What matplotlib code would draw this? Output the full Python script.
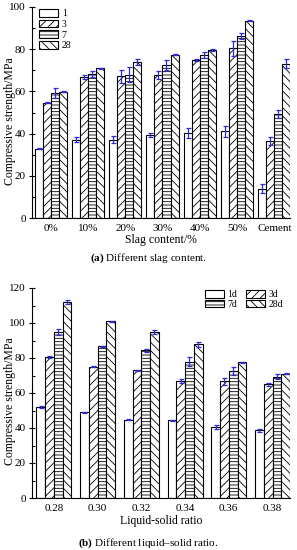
import numpy as np
import matplotlib
matplotlib.use("Agg")
import matplotlib.pyplot as plt
from matplotlib.patches import Patch

plt.rcParams["font.family"] = ["Liberation Serif", "DejaVu Serif"]
plt.rcParams["mathtext.fontset"] = "custom"
plt.rcParams["mathtext.rm"] = "Liberation Serif"
plt.rcParams["mathtext.bf"] = "Liberation Serif:bold"
plt.rcParams["hatch.linewidth"] = 0.6
plt.rcParams["font.size"] = 7.5

# (a) slag content
slag_labels = ["0%", "10%", "20%", "30%", "40%", "50%", "Cement"]
slag_1d = [32.8, 37.2, 37.2, 39.4, 40.3, 41.2, 13.9]
slag_3d = [54.6, 66.9, 67.2, 67.9, 75.0, 80.5, 36.5]
slag_7d = [59.2, 68.3, 68.0, 72.5, 77.4, 86.4, 49.2]
slag_28d = [59.9, 71.0, 73.8, 77.3, 79.7, 93.5, 73.2]
slag_1d_err = [0.3, 1.2, 1.5, 0.8, 2.2, 2.6, 2.0]
slag_3d_err = [0.3, 0.8, 3.0, 1.8, 0.4, 3.5, 2.0]
slag_7d_err = [2.3, 1.5, 3.5, 2.5, 1.5, 1.5, 1.8]
slag_28d_err = [0.3, 0.2, 1.5, 0.2, 0.4, 0.2, 2.0]

# (b) liquid-solid ratio
ratio_labels = ["0.28", "0.30", "0.32", "0.34", "0.36", "0.38"]
ratio_1d = [52.2, 48.9, 44.7, 44.3, 40.6, 38.6]
ratio_3d = [80.6, 74.9, 73.0, 66.8, 66.8, 64.9]
ratio_7d = [94.8, 86.7, 84.4, 77.8, 72.6, 69.3]
ratio_28d = [112.0, 101.0, 94.9, 87.8, 77.5, 70.9]
ratio_1d_err = [0.5, 0.5, 0.2, 0.3, 1.2, 1.0]
ratio_3d_err = [0.8, 0.3, 0.2, 1.3, 2.0, 1.0]
ratio_7d_err = [1.8, 0.3, 0.8, 2.5, 2.5, 1.5]
ratio_28d_err = [1.2, 0.3, 1.2, 1.5, 0.2, 0.3]

hatches = ["", "////", "-----", "\\\\\\\\"]
err_color = "#2a2ad8"


def draw_panel(ax, labels, series, errs, width, ymax):
    x = np.arange(len(labels))
    for i, (vals, err) in enumerate(zip(series, errs)):
        pos = x + (i - 1.5) * width
        ax.bar(pos, vals, width, color="white", edgecolor="black",
               linewidth=0.8, hatch=hatches[i])
        ax.errorbar(pos, vals, yerr=err, fmt="none", ecolor=err_color,
                    elinewidth=0.9, capsize=1.8, capthick=0.9)
    ax.set_xticks(x)
    ax.set_xticklabels(labels, fontsize=8)
    ax.set_ylim(0, ymax)
    ax.set_yticks(np.arange(0, ymax + 1, 20))
    ax.set_yticks(np.arange(10, ymax, 20), minor=True)
    ax.spines["top"].set_visible(False)
    ax.spines["right"].set_visible(False)
    ax.tick_params(axis="y", direction="inout", length=5, width=0.8, pad=2,
                   labelsize=8)
    ax.tick_params(axis="y", which="minor", direction="in", length=2, width=0.8)
    ax.tick_params(axis="x", length=0, pad=4)
    ax.set_ylabel("Compressive strength/MPa", fontsize=8.5)
    ax.yaxis.set_label_coords(-0.062, 0.46)


fig = plt.figure(figsize=(2.97, 5.5), dpi=100)

ax1 = fig.add_axes([32 / 297, 1 - 218 / 550, 258 / 297, 211 / 550])
draw_panel(ax1, slag_labels, [slag_1d, slag_3d, slag_7d, slag_28d],
           [slag_1d_err, slag_3d_err, slag_7d_err, slag_28d_err], 0.215, 100)
ax1.set_xlim(-0.5, 6.42)
ax1.set_xlabel("Slag content/%", fontsize=8.5, labelpad=1)
handles1 = [Patch(facecolor="white", edgecolor="black", hatch=h, linewidth=0.8)
            for h in hatches]
ax1.legend(handles1, ["1", "3", "7", "28"], loc="upper left",
           bbox_to_anchor=(0.019, 1.0), frameon=False, fontsize=7,
           handlelength=2.0, handleheight=0.85, labelspacing=0.15,
           handletextpad=0.35, borderaxespad=0, borderpad=0.2)

ax2 = fig.add_axes([32 / 297, 1 - 498 / 550, 258 / 297, 210 / 550])
draw_panel(ax2, ratio_labels, [ratio_1d, ratio_3d, ratio_7d, ratio_28d],
           [ratio_1d_err, ratio_3d_err, ratio_7d_err, ratio_28d_err], 0.2, 120)
ax2.set_xlim(-0.5, 5.4)
ax2.set_xlabel("Liquid-solid ratio", fontsize=8.5, labelpad=2)
handles2 = [Patch(facecolor="white", edgecolor="black", hatch=h, linewidth=0.8)
            for h in [hatches[0], hatches[2], hatches[1], hatches[3]]]
ax2.legend(handles2, ["1d", "7d", "3d", "28d"], ncol=2, loc="upper left",
           bbox_to_anchor=(0.663, 1.0), frameon=False, fontsize=7,
           handlelength=2.0, handleheight=0.85, labelspacing=0.05,
           handletextpad=0.3, columnspacing=0.9, borderaxespad=0,
           borderpad=0.2)

fig.text(0.5, 1 - 258 / 550, r"$\bf{(a)}$ Different slag content.",
         ha="center", va="center", fontsize=8)
fig.text(0.5, 1 - 543 / 550, r"$\bf{(b)}$ Different liquid–solid ratio.",
         ha="center", va="center", fontsize=8)

fig.savefig("out.png", dpi=100)
